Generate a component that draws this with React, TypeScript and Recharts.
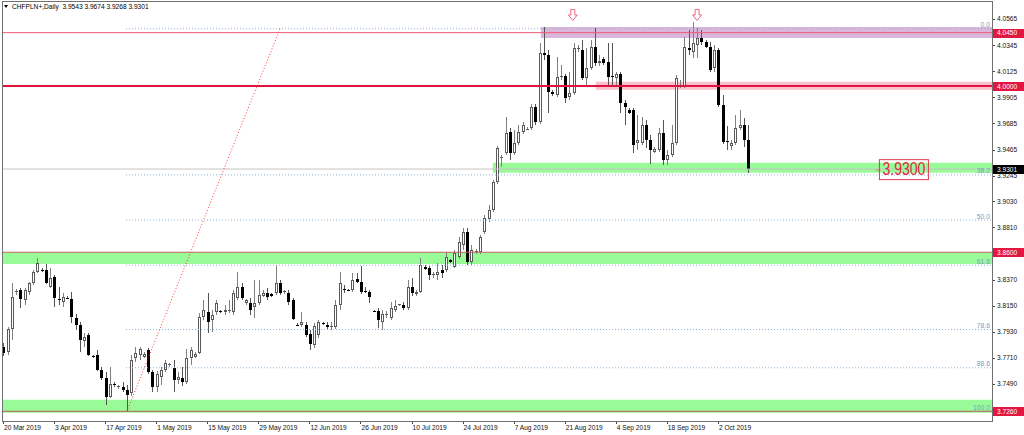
import React from "react";
import { Bar, ComposedChart, ReferenceArea, ReferenceDot, ReferenceLine, XAxis, YAxis } from "recharts";

// daily bars incl. the short Sunday sessions, 20 Mar 2019 .. 10 Oct 2019
// [open, high, low, close]
const candles: [number, number, number, number][] = [
  [3.7803, 3.7837, 3.7727, 3.7753], [3.7761, 3.7972, 3.7736, 3.7955], [3.7955, 3.8342, 3.7862, 3.8224], [3.8266, 3.8292, 3.8241, 3.8275],
  [3.8283, 3.83, 3.8132, 3.8207], [3.8199, 3.83, 3.8157, 3.8283], [3.8266, 3.8351, 3.8241, 3.8342], [3.8342, 3.8452, 3.8325, 3.8435],
  [3.8435, 3.8553, 3.8426, 3.8511], [3.8452, 3.8468, 3.8435, 3.8447], [3.8452, 3.8502, 3.8334, 3.8342], [3.8308, 3.8468, 3.83, 3.8384],
  [3.8393, 3.8409, 3.814, 3.8216], [3.8207, 3.8308, 3.8157, 3.8203], [3.8182, 3.8258, 3.814, 3.8224], [3.8216, 3.8233, 3.8207, 3.8213],
  [3.8207, 3.8266, 3.8005, 3.8056], [3.8047, 3.8081, 3.7946, 3.7988], [3.7988, 3.8014, 3.7761, 3.7862], [3.7854, 3.7921, 3.7803, 3.7887],
  [3.7904, 3.7921, 3.7727, 3.7736], [3.7727, 3.7736, 3.7711, 3.7719], [3.7736, 3.7778, 3.7601, 3.761], [3.761, 3.7635, 3.7525, 3.7542],
  [3.7542, 3.7593, 3.7315, 3.7382], [3.7382, 3.7635, 3.7374, 3.7492], [3.7492, 3.7509, 3.7466, 3.7483], [3.7466, 3.7483, 3.745, 3.7475],
  [3.7466, 3.7509, 3.7424, 3.7441], [3.7441, 3.7483, 3.7262, 3.7399], [3.7416, 3.7736, 3.7391, 3.7694], [3.7711, 3.7803, 3.7677, 3.7753],
  [3.7736, 3.7803, 3.7694, 3.7786], [3.7719, 3.7761, 3.7711, 3.7744], [3.7778, 3.7795, 3.7576, 3.7593], [3.7593, 3.761, 3.7424, 3.7466],
  [3.7466, 3.7601, 3.7424, 3.7576], [3.7551, 3.7635, 3.7483, 3.761], [3.761, 3.7694, 3.7593, 3.7669], [3.7652, 3.7669, 3.7635, 3.766],
  [3.7626, 3.7694, 3.7424, 3.7525], [3.7525, 3.7593, 3.7492, 3.7551], [3.7542, 3.7635, 3.7475, 3.7509], [3.7509, 3.7786, 3.7492, 3.7711],
  [3.7711, 3.7803, 3.7652, 3.7778], [3.7719, 3.7761, 3.7711, 3.7744], [3.7753, 3.809, 3.7744, 3.8056], [3.8056, 3.8199, 3.8031, 3.8115],
  [3.8098, 3.8258, 3.7921, 3.8014], [3.8031, 3.8115, 3.793, 3.8073], [3.8098, 3.8199, 3.8073, 3.8174], [3.8106, 3.8115, 3.809, 3.8103],
  [3.8098, 3.8157, 3.8073, 3.8115], [3.8106, 3.8199, 3.809, 3.8113], [3.8098, 3.8283, 3.8073, 3.8258], [3.8216, 3.8435, 3.8199, 3.8308],
  [3.8308, 3.8342, 3.8199, 3.8216], [3.8174, 3.8207, 3.8157, 3.8199], [3.8174, 3.8216, 3.8073, 3.8115], [3.814, 3.8367, 3.8047, 3.8174],
  [3.8174, 3.8367, 3.8157, 3.8241], [3.8233, 3.8283, 3.8224, 3.8258], [3.8258, 3.83, 3.8199, 3.8224], [3.825, 3.8258, 3.8224, 3.8233],
  [3.8258, 3.8494, 3.8241, 3.8342], [3.8342, 3.8367, 3.8241, 3.8258], [3.8266, 3.8283, 3.825, 3.8275], [3.8258, 3.8283, 3.8157, 3.8182],
  [3.8199, 3.8216, 3.8031, 3.8039], [3.7988, 3.8005, 3.798, 3.7985], [3.7988, 3.8098, 3.7972, 3.8014], [3.7988, 3.8014, 3.7887, 3.7904],
  [3.7913, 3.7946, 3.7778, 3.7829], [3.782, 3.8005, 3.7795, 3.798], [3.7904, 3.8031, 3.7879, 3.8014], [3.8005, 3.8014, 3.7988, 3.8001],
  [3.7988, 3.8014, 3.7946, 3.7972], [3.7972, 3.8014, 3.7946, 3.798], [3.7972, 3.8199, 3.7955, 3.8157], [3.8157, 3.8435, 3.8115, 3.8342],
  [3.8292, 3.8325, 3.8258, 3.8283], [3.8283, 3.8292, 3.8275, 3.828], [3.8283, 3.8426, 3.8266, 3.8367], [3.8376, 3.8426, 3.8342, 3.8351],
  [3.8351, 3.8485, 3.825, 3.8266], [3.8275, 3.8308, 3.8258, 3.8272], [3.8266, 3.8283, 3.8174, 3.8224], [3.8106, 3.8115, 3.8098, 3.8104],
  [3.8106, 3.8132, 3.7963, 3.8031], [3.8014, 3.8115, 3.7946, 3.8081], [3.8075, 3.8106, 3.8047, 3.8083], [3.8047, 3.8182, 3.8031, 3.8132],
  [3.8115, 3.8199, 3.8098, 3.8148], [3.8157, 3.8165, 3.8148, 3.816], [3.8157, 3.8182, 3.8115, 3.8132], [3.8132, 3.8367, 3.8115, 3.8308],
  [3.8308, 3.8384, 3.8233, 3.8258], [3.825, 3.8283, 3.8233, 3.8266], [3.8266, 3.8553, 3.8258, 3.8494], [3.8477, 3.8494, 3.8452, 3.8455],
  [3.8468, 3.8485, 3.8367, 3.8409], [3.8418, 3.8435, 3.8384, 3.842], [3.8409, 3.8511, 3.8367, 3.8435], [3.8452, 3.8494, 3.8384, 3.8426],
  [3.8452, 3.8603, 3.8435, 3.8561], [3.8536, 3.8544, 3.8511, 3.8519], [3.8477, 3.862, 3.8468, 3.8595], [3.8561, 3.8729, 3.8544, 3.8687],
  [3.8662, 3.8805, 3.862, 3.8772], [3.8772, 3.8805, 3.8494, 3.8519], [3.8519, 3.8662, 3.8494, 3.862], [3.8603, 3.8628, 3.8586, 3.8612],
  [3.8603, 3.8746, 3.8586, 3.8729], [3.8772, 3.8915, 3.8755, 3.8889], [3.8881, 3.8999, 3.8856, 3.8957], [3.8957, 3.9209, 3.894, 3.9193],
  [3.9193, 3.9496, 3.9176, 3.9479], [3.9395, 3.942, 3.9319, 3.9403], [3.9437, 3.974, 3.942, 3.9605], [3.9614, 3.9647, 3.9378, 3.9437],
  [3.9437, 3.963, 3.942, 3.9521], [3.9521, 3.9672, 3.9504, 3.9614], [3.9614, 3.9698, 3.9597, 3.9672], [3.9639, 3.9656, 3.963, 3.9642],
  [3.9647, 3.9849, 3.963, 3.9824], [3.9824, 3.9849, 3.9672, 3.9698], [3.9698, 4.0363, 3.9681, 4.0279], [4.0279, 4.0498, 4.022, 4.0262],
  [4.0262, 4.0304, 3.9774, 3.995], [3.995, 3.9967, 3.9917, 3.9934], [3.9925, 4.0245, 3.9908, 4.0077], [4.0077, 4.0178, 4.0051, 4.0085],
  [4.0085, 4.0102, 3.9858, 3.99], [3.9908, 4.0119, 3.9883, 3.9942], [3.9942, 4.0363, 3.9925, 4.0321], [4.0315, 4.0346, 4.0287, 4.0321],
  [4.0304, 4.0388, 4.0051, 4.0068], [4.0068, 4.0321, 3.9992, 4.0152], [4.0152, 4.0388, 4.0136, 4.0329], [4.0329, 4.0489, 4.0169, 4.0195],
  [4.0195, 4.0262, 4.0169, 4.0211], [4.0228, 4.0245, 4.0178, 4.0195], [4.0203, 4.0363, 3.9992, 4.0077], [4.0085, 4.0363, 3.9992, 4.0077],
  [4.0068, 4.0119, 3.9992, 4.0102], [4.0102, 4.0119, 3.9774, 3.9858], [3.9858, 3.9883, 3.9672, 3.9824], [3.9799, 3.9816, 3.9765, 3.9774],
  [3.9799, 3.9816, 3.9437, 3.9504], [3.9521, 3.9757, 3.9462, 3.9546], [3.9521, 3.974, 3.9504, 3.9672], [3.9672, 3.9715, 3.9479, 3.9546],
  [3.9546, 3.9588, 3.9344, 3.9462], [3.9445, 3.9487, 3.9437, 3.947], [3.9462, 3.9647, 3.9445, 3.9605], [3.9605, 3.9715, 3.9336, 3.9378],
  [3.9378, 3.9462, 3.9336, 3.942], [3.942, 3.9672, 3.9403, 3.9521], [3.9521, 4.0093, 3.9504, 4.0068], [4.0001, 4.0051, 3.9984, 4.0009],
  [4.0001, 4.0413, 3.9984, 4.0329], [4.0321, 4.0472, 4.0262, 4.0304], [4.0287, 4.054, 4.0237, 4.0363], [4.0346, 4.0489, 4.0237, 4.0405],
  [4.0405, 4.0472, 4.0346, 4.0371], [4.0371, 4.0388, 4.0321, 4.0329], [4.0329, 4.0371, 4.0119, 4.0136], [4.0152, 4.0346, 4.0119, 4.0304],
  [4.0304, 4.0321, 3.9824, 3.9841], [3.9841, 3.9925, 3.9513, 3.9529], [3.9538, 3.9664, 3.9462, 3.9529], [3.9496, 3.9546, 3.9462, 3.9521],
  [3.9521, 3.9757, 3.9504, 3.9647], [3.9647, 3.9799, 3.963, 3.9672], [3.9672, 3.9731, 3.9487, 3.9546], [3.9543, 3.9674, 3.9268, 3.9301],
];

// a date label every 12 bars
const tickLabels = [
  "20 Mar 2019", "3 Apr 2019", "17 Apr 2019", "1 May 2019", "15 May 2019", "29 May 2019", "12 Jun 2019", "26 Jun 2019",
  "10 Jul 2019", "24 Jul 2019", "7 Aug 2019", "21 Aug 2019", "4 Sep 2019", "18 Sep 2019", "2 Oct 2019",
];
const tickStep = 12;

const priceTicks = [4.0565, 4.0345, 4.0125, 3.9905, 3.9685, 3.9465, 3.9245, 3.903, 3.881, 3.837, 3.815, 3.793, 3.771, 3.749];

const X_MIN = -0.235;
const X_MAX = 232.4;
const Y_MIN = 3.71783;
const Y_MAX = 4.07082;

// fibonacci retracement drawn from the April low to the top
const fibHigh = 4.0483;
const fibLow = 3.7259;
const fibRatios = [0, 0.382, 0.5, 0.618, 0.786, 0.886, 1];
const fibStartBar = 28.9;
const trendFromBar = 29.1;
const trendToBar = 65.1;

// zones: [fromBar, low, high]
const greenZones: [number, number, number][] = [
  [115.1, 3.9269, 3.9353],
  [X_MIN, 3.8502, 3.8598],
  [X_MIN, 3.7247, 3.7357],
];
const topZone: [number, number, number] = [126.4, 4.0405, 4.0498];
const midZone: [number, number, number] = [139.3, 3.9969, 4.0036];

const levelTop = 4.045;
const levelMid = 4.0;
const levelLow = [3.86, 3.726];
const lastPrice = 3.9301;
const header = "CHFPLN+,Daily  3.9543 3.9674 3.9268 3.9301";

const arrowBars = [133.9, 163.1];
const arrowPrice = 4.0599;
const note = { bar: 211.7, price: 3.93, text: "3.9300" };

const data = candles.map(([o, h, l, c], i) => ({ i, o, h, l, c, range: [l, h] }));

const FONT = "'Liberation Sans', Arial, sans-serif";

function Candle(props: any) {
  const { x, y, width, height, payload } = props;
  if (!payload) return null;
  const { o, h, l, c } = payload;
  const cx = Math.round(x + width / 2);
  const k = h > l ? height / (h - l) : 0;
  const yo = y + (h - o) * k;
  const yc = y + (h - c) * k;
  const top = Math.round(Math.min(yo, yc));
  const bot = Math.round(Math.max(yo, yc));
  const bull = c >= o;
  const edge = bull ? "#5a5a5a" : "#000";
  return (
    <g>
      <line x1={cx + 0.5} x2={cx + 0.5} y1={Math.round(y)} y2={Math.round(y + height)} stroke={bull ? "#808080" : "#555"} />
      {bot - top <= 1 ? (
        <rect x={cx - 1} y={top} width={3} height={1} fill={edge} />
      ) : (
        <rect x={cx - 0.5} y={top + 0.5} width={2} height={bot - top - 1} fill={bull ? "#fff" : "#000"} stroke={edge} />
      )}
    </g>
  );
}

function XTick(props: any) {
  const { x, y, payload } = props;
  const label = tickLabels[Math.round(payload.value / tickStep)];
  return (
    <g>
      <line x1={Math.round(x) + 0.5} x2={Math.round(x) + 0.5} y1={y} y2={y + 3} stroke="#444" />
      <text x={x + 1} y={y + 9} fontSize={6.6} fontFamily={FONT} fill="#111" textAnchor="start">
        {label}
      </text>
    </g>
  );
}

function YTick(props: any) {
  const { x, y, payload } = props;
  return (
    <g>
      <line x1={x} x2={x + 3} y1={Math.round(y) + 0.5} y2={Math.round(y) + 0.5} stroke="#444" />
      <text x={x + 5} y={y + 2.4} fontSize={6.6} fontFamily={FONT} fill="#111">
        {payload.value.toFixed(4)}
      </text>
    </g>
  );
}

function axisBox(bg: string, value: number) {
  return (p: any) => (
    <g>
      <rect x={Math.round(p.cx) + 1} y={Math.round(p.cy) - 4} width={31} height={9} fill={bg} />
      <text x={Math.round(p.cx) + 5} y={p.cy + 2.6} fontSize={6.6} fontFamily={FONT} fill="#fff">
        {value.toFixed(4)}
      </text>
    </g>
  );
}

function fibLabel(text: string) {
  return (p: any) => (
    <text x={p.cx - 2} y={p.cy - 1.5} fontSize={6.8} fontFamily={FONT} fill="#7d9cc4" textAnchor="end">
      {text}
    </text>
  );
}

function DownArrow(p: any) {
  const { cx, cy } = p;
  const d = `M${cx - 2} ${cy - 5.5} L${cx + 2} ${cy - 5.5} L${cx + 2} ${cy} L${cx + 4.5} ${cy} L${cx} ${cy + 5.5} L${cx - 4.5} ${cy} L${cx - 2} ${cy} Z`;
  return <path d={d} fill="#fff" stroke="#ee6680" strokeWidth={1} />;
}

function NoteBox(p: any) {
  const { cx, cy } = p;
  return (
    <g>
      <line x1={cx - 28} x2={cx - 23} y1={cy + 1} y2={cy + 1} stroke="#d08890" />
      <rect x={cx - 24.5} y={cy - 9.5} width={49} height={20} fill="none" stroke="#e23a50" />
      <text x={cx} y={cy + 6} fontSize={18} fontFamily={FONT} fill="#e2283e" textAnchor="middle" textLength={43} lengthAdjust="spacingAndGlyphs">
        {note.text}
      </text>
    </g>
  );
}

export default function App() {
  const fibs = fibRatios.map((r) => fibHigh - r * (fibHigh - fibLow));
  return (
    <div style={{ position: "absolute", left: 0, top: 0, width: 1024, height: 435, background: "#fff", fontFamily: FONT }}>
      <ComposedChart width={1024} height={435} data={data} margin={{ top: 2, right: 0, bottom: 0, left: 2 }}>
        <XAxis
          type="number"
          dataKey="i"
          domain={[X_MIN, X_MAX]}
          allowDataOverflow
          ticks={tickLabels.map((_, k) => k * tickStep)}
          interval={0}
          axisLine={false}
          tickLine={false}
          tickSize={0}
          tickMargin={0}
          height={14}
          tick={<XTick />}
        />
        <YAxis
          orientation="right"
          type="number"
          domain={[Y_MIN, Y_MAX]}
          allowDataOverflow
          ticks={priceTicks}
          interval={0}
          axisLine={false}
          tickLine={false}
          tickSize={0}
          tickMargin={0}
          width={32}
          tick={<YTick />}
        />

        {greenZones.map(([from, lo, hi], k) => (
          <ReferenceArea key={"g" + k} x1={from} x2={X_MAX} y1={lo} y2={hi} fill="#98fb98" fillOpacity={1} stroke="none" />
        ))}
        <ReferenceArea x1={topZone[0]} x2={X_MAX} y1={topZone[1]} y2={topZone[2]} fill="#dab6da" fillOpacity={1} stroke="none" />
        <ReferenceArea x1={midZone[0]} x2={X_MAX} y1={midZone[1]} y2={midZone[2]} fill="#f8c2cc" fillOpacity={1} stroke="none" />

        <ReferenceLine y={lastPrice} stroke="#c4c4c4" />
        {fibs.map((p, k) => (
          <ReferenceLine
            key={"f" + k}
            segment={[{ x: fibStartBar, y: p }, { x: X_MAX, y: p }]}
            stroke="#8fb0d8"
            strokeDasharray="1 2"
          />
        ))}
        <ReferenceLine y={levelTop} stroke="#ee5a74" />
        <ReferenceLine y={levelMid} stroke="#e0143c" strokeWidth={2} />
        {levelLow.map((p) => (
          <ReferenceLine key={"l" + p} y={p} stroke="#c0605a" />
        ))}
        <ReferenceLine
          segment={[{ x: trendFromBar, y: fibLow }, { x: trendToBar, y: fibHigh }]}
          stroke="#ff3b3b"
          strokeDasharray="1 2"
        />

        <Bar dataKey="range" barSize={3} shape={<Candle />} isAnimationActive={false} />

        {fibs.map((p, k) => (
          <ReferenceDot key={"fl" + k} x={X_MAX - 0.01} y={p} r={0} shape={fibLabel((fibRatios[k] * 100).toFixed(1))} />
        ))}
        {arrowBars.map((b) => (
          <ReferenceDot key={"a" + b} x={b} y={arrowPrice} r={0} shape={DownArrow} />
        ))}
        <ReferenceDot x={note.bar} y={note.price} r={0} shape={NoteBox} />

        <ReferenceDot x={X_MAX - 0.01} y={levelTop} r={0} shape={axisBox("#e3163f", levelTop)} />
        <ReferenceDot x={X_MAX - 0.01} y={levelMid} r={0} shape={axisBox("#e3163f", levelMid)} />
        {levelLow.map((p) => (
          <ReferenceDot key={"b" + p} x={X_MAX - 0.01} y={p} r={0} shape={axisBox("#e3163f", p)} />
        ))}
        <ReferenceDot x={X_MAX - 0.01} y={lastPrice} r={0} shape={axisBox("#000", lastPrice)} />
      </ComposedChart>

      <div
        style={{
          position: "absolute",
          left: 2,
          top: 1,
          width: 991,
          height: 421,
          boxSizing: "border-box",
          border: "1px solid #707070",
          pointerEvents: "none",
        }}
      />
      <div
        style={{
          position: "absolute",
          left: 4,
          top: 5,
          width: 0,
          height: 0,
          borderLeft: "2.5px solid transparent",
          borderRight: "2.5px solid transparent",
          borderTop: "3px solid #000",
        }}
      />
      <div style={{ position: "absolute", left: 12, top: 3, fontSize: 6.6, lineHeight: "7px", whiteSpace: "pre", color: "#000" }}>
        {header}
      </div>
    </div>
  );
}
